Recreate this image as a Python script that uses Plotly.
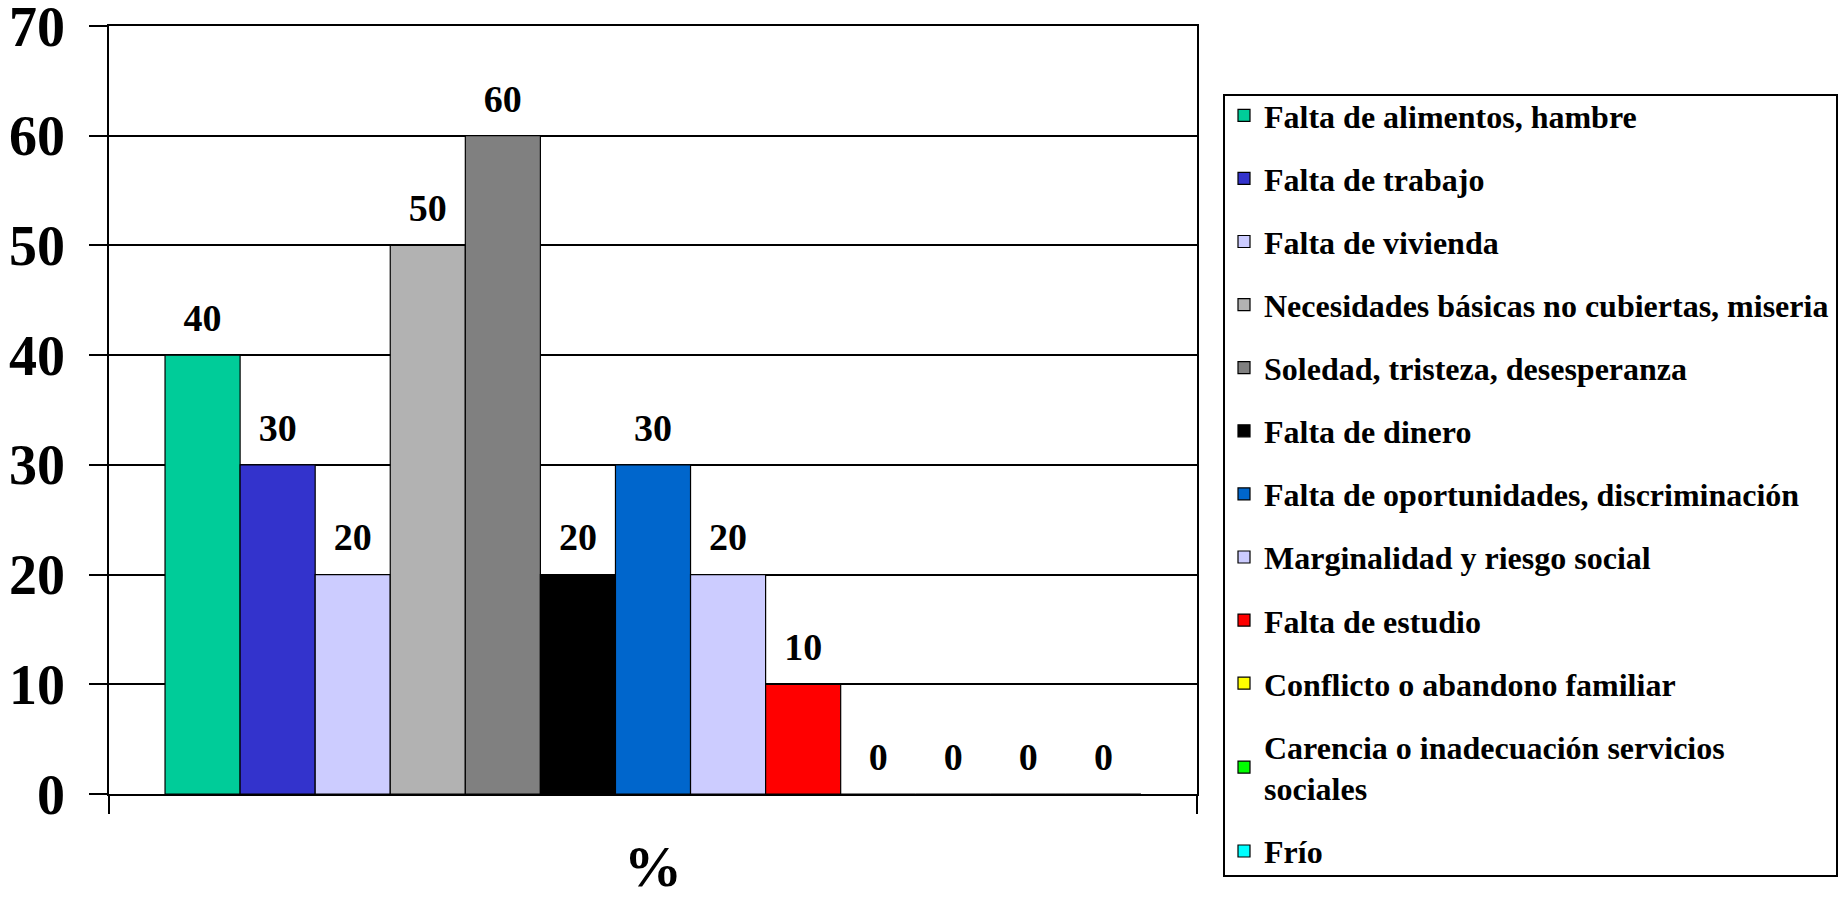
import plotly.graph_objects as go

categories = ["%"]
series_names = [
    "Falta de alimentos, hambre",
    "Falta de trabajo",
    "Falta de vivienda",
    "Necesidades básicas no cubiertas, miseria",
    "Soledad, tristeza, desesperanza",
    "Falta de dinero",
    "Falta de oportunidades, discriminación",
    "Marginalidad y riesgo social",
    "Falta de estudio",
    "Conflicto o abandono familiar",
    "Carencia o inadecuación servicios<br>sociales",
    "Frío",
    "",
]
series_values = [40, 30, 20, 50, 60, 20, 30, 20, 10, 0, 0, 0, 0]
series_colors = ["#00CC99", "#3333CC", "#CCCCFF", "#B2B2B2", "#808080", "#000000",
                 "#0066CC", "#CCCCFF", "#FF0000", "#FFFF00", "#00FF00", "#00FFFF", "#FFFFFF"]
show_in_legend = [True] * 12 + [False]
y_ticks = [0, 10, 20, 30, 40, 50, 60, 70]

FONT = "Liberation Serif, Times New Roman, serif"
LABEL_LIFT = 1.2  # gap (in axis units) between a bar top and its value label

fig = go.Figure()
for i, (name, val, col, sl) in enumerate(zip(series_names, series_values, series_colors, show_in_legend)):
    fig.add_trace(go.Bar(
        x=categories, y=[val], name=name, showlegend=sl, legendgroup=f"g{i}",
        offsetgroup=str(i),
        marker=dict(color=col, line=dict(color="black", width=1.2)),
    ))
    # transparent carrier bar used only to place the value label a little above the bar
    fig.add_trace(go.Bar(
        x=categories, y=[LABEL_LIFT], base=[val], showlegend=False, offsetgroup=str(i),
        marker=dict(color="rgba(0,0,0,0)", line=dict(width=0)), hoverinfo="skip",
        text=[val], textposition="outside", cliponaxis=False, constraintext="none",
        textfont=dict(family=FONT, size=38, color="black", weight="bold"),
    ))

W, H = 1839, 899
L, R, T, B = 109, 642, 26, 105
pw, ph = W - L - R, H - T - B

def px_to_paper(x, y):
    return (x - L) / pw, (H - B - y) / ph

lx0, ly1 = px_to_paper(1224, 95)
lx1, ly0 = px_to_paper(1837, 876)
_, legend_top = px_to_paper(0, 88)

fig.update_layout(
    width=W, height=H,
    margin=dict(l=L, r=R, t=T, b=B, autoexpand=False),
    paper_bgcolor="white", plot_bgcolor="white",
    barmode="group", bargap=0.103, bargroupgap=0,
    font=dict(family=FONT, color="black"),
    legend=dict(
        x=lx0, y=legend_top, xanchor="left", yanchor="top",
        borderwidth=0, bgcolor="rgba(0,0,0,0)",
        font=dict(family=FONT, size=32, color="black", weight="bold"),
        tracegroupgap=18.5, maxheight=880,
    ),
    shapes=[dict(type="rect", xref="paper", yref="paper", x0=lx0, x1=lx1, y0=ly0, y1=ly1,
                 line=dict(color="black", width=2), fillcolor="rgba(0,0,0,0)", layer="below")],
)
fig.update_yaxes(
    range=[0, 70], tickvals=y_ticks, ticks="outside", ticklen=18, tickwidth=1.5, tickcolor="black",
    showline=True, linecolor="black", linewidth=1.5, mirror=True,
    showgrid=True, gridcolor="black", gridwidth=1.5, zeroline=False,
    tickfont=dict(family=FONT, size=56, color="black", weight="bold"),
    ticklabelstandoff=13, automargin=False, ticklabeloverflow="allow",
)
fig.update_xaxes(
    type="category", range=[-0.5, 0.5], tickson="boundaries", ticks="outside", ticklen=18,
    tickwidth=1.5, tickcolor="black", showline=True, linecolor="black", linewidth=1.5, mirror=True,
    showticklabels=False, showgrid=False, automargin=False,
    title=dict(text="%", font=dict(family=FONT, size=58, color="black", weight="bold"), standoff=75),
)

fig.write_html("out.html", config={"displayModeBar": False},
               post_script="document.body.style.margin='0';")
